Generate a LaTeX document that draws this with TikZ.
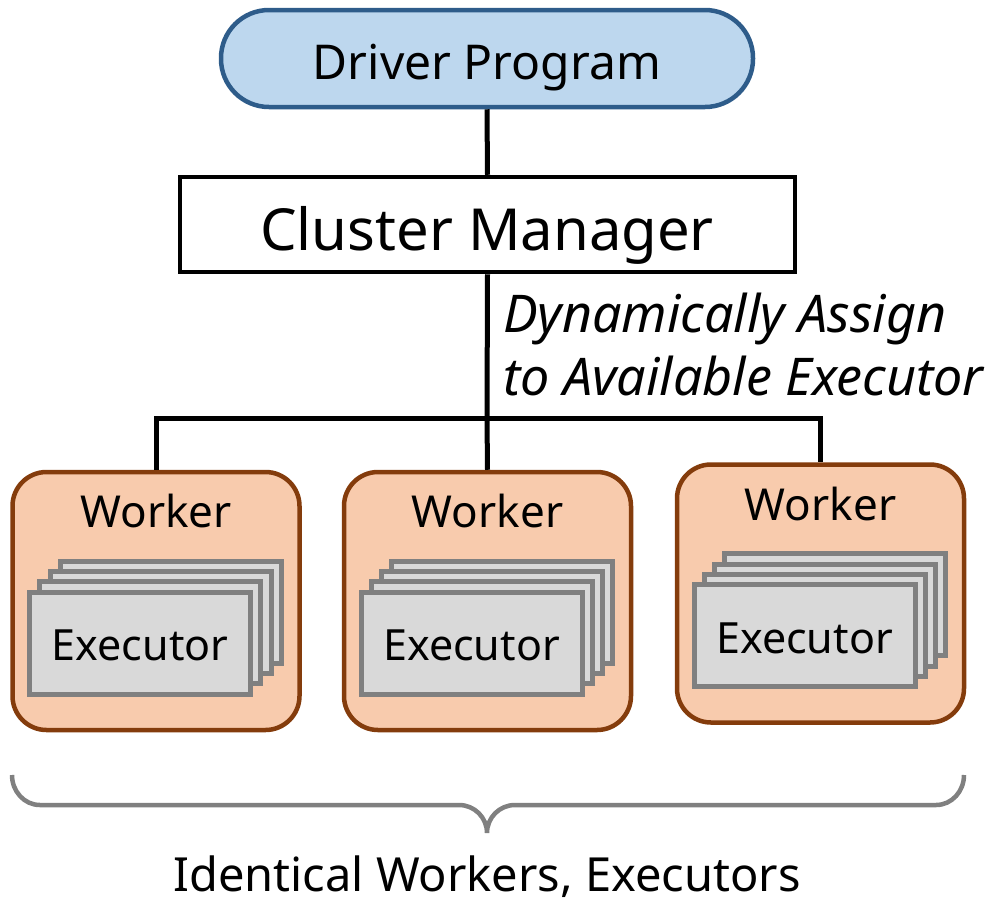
\documentclass[tikz,border=0pt]{standalone}
\usepackage{fontspec}
\setmainfont{Noto Sans}
\definecolor{drvfill}{HTML}{BDD7EE}
\definecolor{drvline}{HTML}{2E5C8A}
\definecolor{wkfill}{HTML}{F8CBAD}
\definecolor{wkline}{HTML}{843C0C}
\definecolor{exfill}{HTML}{D9D9D9}
\definecolor{exline}{HTML}{808080}
\begin{document}
\begin{tikzpicture}[x=1pt,y=-1pt,
  driverbox/.style={draw=drvline,fill=drvfill,line width=4.5pt,rounded corners=48pt,minimum width=532pt,minimum height=97pt,inner sep=0pt},
  cmbox/.style={draw=black,fill=white,line width=4.5pt,minimum width=615pt,minimum height=95pt,inner sep=0pt},
  workerbox/.style={draw=wkline,fill=wkfill,line width=4.5pt,rounded corners=34pt,minimum width=287pt,minimum height=258pt,inner sep=0pt},
  execbox/.style={draw=exline,fill=exfill,line width=5pt,minimum width=221pt,minimum height=102pt,inner sep=0pt},
  txt/.style={anchor=base,inner sep=0pt},
  conn/.style={draw=black,line width=5pt},
]
\useasboundingbox (0,0) rectangle (997,906);
\node[driverbox] (driver) at (487,58.5) {};
\node[txt,font=\fontsize{48}{58}\selectfont] (driverlab) at (487,79) {Driver Program};
\node[cmbox] (cm) at (487.5,224.5) {};
\node[txt,font=\fontsize{58}{70}\selectfont] (cmlab) at (487,250) {Cluster Manager};
\coordinate (bus) at (487,418);
\node[workerbox] (w1) at (156,601) {};
\node[workerbox] (w2) at (487.5,601) {};
\node[workerbox] (w3) at (820.5,593.5) {};
\foreach \w in {w1,w2,w3}{
  \node[txt,font=\fontsize{44}{52}\selectfont] (\w lab) at ([yshift=-58pt]\w.north) {Worker};
  \foreach \k in {3,2,1}{
    \node[execbox] (\w ex\k) at ([xshift={-16+10.3*\k},yshift={-173.5+10.3*\k}]\w.north) {};
  }
  \node[execbox] (\w ex0) at ([xshift=-16,yshift=-173.5]\w.north) {};
  \node[txt,font=\fontsize{43}{50}\selectfont] (\w exlab) at ([xshift=-16,yshift=-191]\w.north) {Executor};
}
\draw[conn] (driver.south) -- (cm.north);
\draw[conn] (cm.south) -- (bus);
\draw[conn] (bus) -- (w2.north);
\draw[conn,line join=miter] (w1.north) |- (bus) -| (w3.north);
\node[anchor=base west,inner sep=0pt,font=\fontsize{52}{63}\selectfont\itshape] (note1) at (503,332) {Dynamically Assign};
\node[anchor=base west,inner sep=0pt,font=\fontsize{52}{63}\selectfont\itshape] (note2) at (503,395) {to Available Executor};
\draw[draw=exline,line width=4.5pt] (12,775) to[out=-90,in=180] (40,805) -- (459,805) to[out=0,in=90] (487,833) coordinate (tip) to[out=90,in=180] (515,805) -- (936,805) to[out=0,in=-90] (964,775);
\node[txt,font=\fontsize{47}{56}\selectfont] (caption) at (487,891) {Identical Workers, Executors};
\end{tikzpicture}
\end{document}
